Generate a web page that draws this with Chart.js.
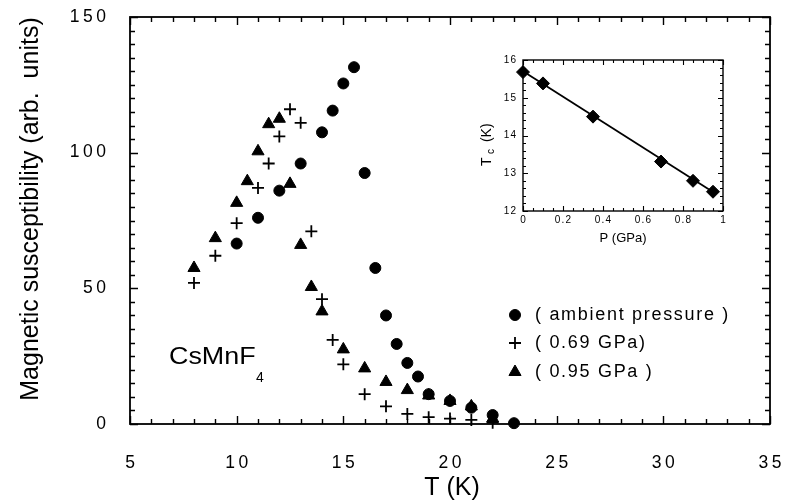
<!DOCTYPE html>
<html>
<head>
<meta charset="utf-8">
<script src="https://cdn.jsdelivr.net/npm/chart.js@4.4.0/dist/chart.umd.min.js"></script>
<style>
  html,body{margin:0;padding:0;background:#fff;}
  #wrap{position:relative;width:785px;height:502px;}
  #main{position:absolute;left:0;top:0;}
  #inset{position:absolute;left:470px;top:40px;}
</style>
</head>
<body>
<div id="wrap">
  <canvas id="main" width="785" height="502"></canvas>
  <canvas id="inset" width="270" height="215"></canvas>
</div>
<script>
// main plot data
const tAmb   = [10, 11, 12, 13, 14, 14.5, 15, 15.5, 16, 16.5, 17, 17.5, 18, 18.5, 19, 20, 21, 22, 23];
const chiAmb = [66.5, 76, 86, 96, 107.5, 115.5, 125.5, 131.5, 92.5, 57.5, 40, 29.5, 22.5, 17.5, 11, 8.5, 6, 3.3, 0.3];
const t069   = [8, 9, 10, 11, 11.5, 12, 12.5, 13, 13.5, 14, 14.5, 15, 16, 17, 18, 19, 20, 21, 22];
const chi069 = [52, 62, 74, 87, 96, 106, 116, 111, 71, 46, 31, 22, 11, 6.5, 3.7, 2.5, 2, 1.5, 0.5];
const t095   = [8, 9, 10, 10.5, 11, 11.5, 12, 12.5, 13, 13.5, 14, 15, 16, 17, 18, 19, 20, 21, 22];
const chi095 = [57.5, 68.5, 81.5, 89.5, 100.5, 110.5, 112.5, 88.5, 66, 50.5, 41.5, 27.5, 20.5, 15.5, 12.5, 10.5, 8.5, 6.5, 2];
const legendLabels = ['( ambient pressure )', '( 0.69 GPa)', '( 0.95 GPa )'];
const xTicks = [5, 10, 15, 20, 25, 30, 35];
const yTicks = [0, 50, 100, 150];

// inset: Tc vs pressure
const insetP  = [0, 0.1, 0.35, 0.69, 0.85, 0.95];
const insetTc = [15.68, 15.38, 14.5, 13.31, 12.8, 12.51];
const fitP  = [0, 0.96];
const fitTc = [15.7, 12.47];
const insetXTicks  = [0, 0.2, 0.4, 0.6, 0.8, 1];
const insetXLabels = ['0', '0.2', '0.4', '0.6', '0.8', '1'];
const insetYTicks  = [12, 13, 14, 15, 16];

const FONT = "'Liberation Sans', Arial, Helvetica, sans-serif";

function pts(xs, ys){ return xs.map((x,i)=>({x:x, y:ys[i]})); }

// text with manual letter spacing
function spaced(ctx, s, x, y, align, sp){
  const chars = [...s];
  const ws = chars.map(c => ctx.measureText(c).width);
  const total = ws.reduce((a,b)=>a+b,0) + sp*(chars.length-1);
  let cx = align==='center' ? x - total/2 : (align==='right' ? x - total : x);
  ctx.textAlign = 'left';
  chars.forEach((c,i)=>{ ctx.fillText(c, cx, y); cx += ws[i] + sp; });
}

// box frame with inward ticks on all four sides
function drawFrame(chart, o){
  const ctx = chart.ctx, a = chart.chartArea;
  const xs = chart.scales.x, ys = chart.scales.y;
  ctx.save();
  ctx.strokeStyle = '#000';
  ctx.lineWidth = o.frameWidth;
  ctx.strokeRect(a.left, a.top, a.right-a.left, a.bottom-a.top);
  ctx.lineWidth = o.tickWidth;
  ctx.beginPath();
  const nx = Math.round((xs.max - xs.min)/o.xMinor);
  for(let i=0;i<=nx;i++){
    const v = xs.min + i*o.xMinor;
    const major = Math.abs(v/o.xMajor - Math.round(v/o.xMajor)) < 1e-6;
    const len = major ? o.majorLen : o.minorLen;
    const px = Math.round(xs.getPixelForValue(v)) + 0.5;
    ctx.moveTo(px, a.bottom); ctx.lineTo(px, a.bottom - len);
    ctx.moveTo(px, a.top); ctx.lineTo(px, a.top + len);
  }
  const ny = Math.round((ys.max - ys.min)/o.yMinor);
  for(let i=0;i<=ny;i++){
    const v = ys.min + i*o.yMinor;
    const major = Math.abs(v/o.yMajor - Math.round(v/o.yMajor)) < 1e-6;
    const len = major ? o.majorLen : o.minorLen;
    const py = Math.round(ys.getPixelForValue(v)) + 0.5;
    ctx.moveTo(a.left, py); ctx.lineTo(a.left + len, py);
    ctx.moveTo(a.right, py); ctx.lineTo(a.right - len, py);
  }
  ctx.stroke();
  ctx.restore();
}

const mainDecor = {
  id: 'mainDecor',
  afterDraw(chart){
    const ctx = chart.ctx, a = chart.chartArea;
    const xs = chart.scales.x, ys = chart.scales.y;
    drawFrame(chart, {frameWidth:1.8, tickWidth:1.4, xMajor:5, xMinor:1, yMajor:50, yMinor:5, majorLen:8, minorLen:5});
    ctx.save();
    ctx.fillStyle = '#000';
    ctx.textBaseline = 'middle';
    ctx.font = '17.5px ' + FONT;
    xTicks.forEach(v => spaced(ctx, String(v), xs.getPixelForValue(v), 463, 'center', 3.5));
    yTicks.forEach(v => spaced(ctx, String(v), 106, ys.getPixelForValue(v), 'right', 3.5));

    // axis titles
    ctx.font = '25px ' + FONT;
    ctx.textAlign = 'center';
    ctx.fillText('T (K)', (a.left + a.right)/2 + 2, 488);
    ctx.save();
    ctx.translate(31, 209);
    ctx.rotate(-Math.PI/2);
    ctx.fillText('Magnetic susceptibility (arb.  units)', 0, 0);
    ctx.restore();

    // compound label
    ctx.save();
    ctx.textBaseline = 'alphabetic';
    ctx.textAlign = 'left';
    ctx.font = '24px ' + FONT;
    ctx.translate(169, 364);
    ctx.scale(1.12, 1);
    ctx.fillText('CsMnF', 0, 0);
    ctx.restore();
    ctx.textBaseline = 'alphabetic';
    ctx.font = '14px ' + FONT;
    ctx.textAlign = 'left';
    ctx.fillText('4', 256, 382);

    // legend
    const legY = [315, 343, 372];
    ctx.textBaseline = 'middle';
    ctx.font = '18px ' + FONT;
    chart.data.datasets.forEach((ds, i) => {
      ctx.fillStyle = '#000';
      ctx.strokeStyle = '#000';
      ctx.lineWidth = ds.borderWidth;
      Chart.helpers.drawPoint(ctx, {pointStyle: ds.pointStyle, radius: ds.pointRadius, rotation: 0, borderWidth: ds.borderWidth}, 515, legY[i]);
      spaced(ctx, legendLabels[i], 535, legY[i], 'left', 1.7);
    });
    ctx.restore();
  }
};

new Chart(document.getElementById('main'), {
  type: 'scatter',
  data: {
    datasets: [
      { label: 'ambient pressure', data: pts(tAmb, chiAmb), pointStyle: 'circle', pointRadius: 5.5,
        backgroundColor: '#000', borderColor: '#000', borderWidth: 1, clip: false },
      { label: '0.69 GPa', data: pts(t069, chi069), pointStyle: 'cross', pointRadius: 6,
        backgroundColor: '#000', borderColor: '#000', borderWidth: 1.8, clip: false },
      { label: '0.95 GPa', data: pts(t095, chi095), pointStyle: 'triangle', pointRadius: 7,
        backgroundColor: '#000', borderColor: '#000', borderWidth: 1, clip: false }
    ]
  },
  options: {
    responsive: false,
    devicePixelRatio: 1,
    animation: false,
    layout: { padding: { left: 130, right: 15, top: 17, bottom: 78 } },
    plugins: { legend: { display: false }, tooltip: { enabled: false } },
    scales: {
      x: { type: 'linear', min: 5, max: 35, display: false },
      y: { type: 'linear', min: 0, max: 150, display: false }
    }
  },
  plugins: [mainDecor]
});

const insetDecor = {
  id: 'insetDecor',
  afterDraw(chart){
    const ctx = chart.ctx, a = chart.chartArea;
    const xs = chart.scales.x, ys = chart.scales.y;
    drawFrame(chart, {frameWidth:1.4, tickWidth:1.1, xMajor:0.2, xMinor:0.05, yMajor:1, yMinor:0.2, majorLen:5, minorLen:3});
    ctx.save();
    ctx.fillStyle = '#000';
    ctx.textBaseline = 'middle';
    ctx.font = '10px ' + FONT;
    insetXTicks.forEach((v,i) => spaced(ctx, insetXLabels[i], xs.getPixelForValue(v), a.bottom + 9.5, 'center', 1.2));
    insetYTicks.forEach(v => spaced(ctx, String(v), a.left - 7, ys.getPixelForValue(v), 'right', 1.2));
    ctx.font = '13px ' + FONT;
    ctx.textAlign = 'center';
    ctx.fillText('P (GPa)', 623 - 470, 238 - 40);
    // Tc (K), rotated
    ctx.save();
    ctx.translate(487 - 470, 140 - 40);
    ctx.rotate(-Math.PI/2);
    ctx.textAlign = 'left';
    ctx.font = '14px ' + FONT;
    ctx.fillText('T', -26, 0);
    ctx.font = '10px ' + FONT;
    ctx.fillText('c', -14, 4);
    ctx.font = '14px ' + FONT;
    ctx.fillText(' (K)', -6, 0);
    ctx.restore();
    ctx.restore();
  }
};

new Chart(document.getElementById('inset'), {
  type: 'scatter',
  data: {
    datasets: [
      { label: 'fit', data: pts(fitP, fitTc), showLine: true, pointRadius: 0,
        borderColor: '#000', borderWidth: 1.8, clip: false },
      { label: 'Tc', data: pts(insetP, insetTc), pointStyle: 'rectRot', pointRadius: 6.5,
        backgroundColor: '#000', borderColor: '#000', borderWidth: 1, clip: false }
    ]
  },
  options: {
    responsive: false,
    devicePixelRatio: 1,
    animation: false,
    layout: { padding: { left: 53, right: 17, top: 20, bottom: 44 } },
    plugins: { legend: { display: false }, tooltip: { enabled: false } },
    scales: {
      x: { type: 'linear', min: 0, max: 1, display: false },
      y: { type: 'linear', min: 12, max: 16, display: false }
    }
  },
  plugins: [insetDecor]
});
</script>
</body>
</html>
